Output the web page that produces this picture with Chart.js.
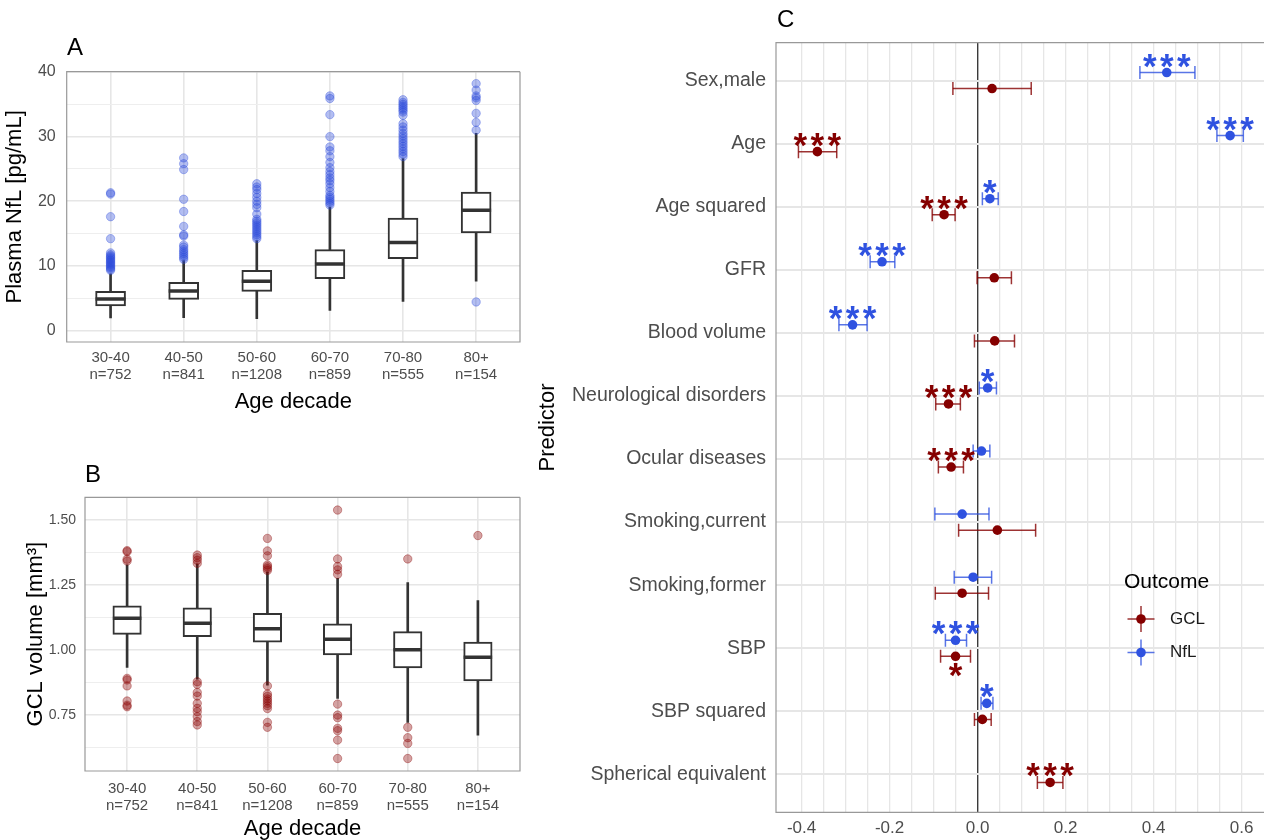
<!DOCTYPE html>
<html>
<head>
<meta charset="utf-8">
<script src="https://cdn.jsdelivr.net/npm/chart.js@4.4.1/dist/chart.umd.min.js"></script>
<style>
  body { margin: 0; background: #fff; width: 1264px; height: 840px; position: relative; overflow: hidden; }
  .panel { position: absolute; }
  .tag { position: absolute; font: 24px/24px "Liberation Sans", Arial, sans-serif; color: #000; }
</style>
</head>
<body>
<div class="panel" style="left:0;top:0"><canvas id="chartA" width="540" height="430"></canvas></div>
<div class="panel" style="left:0;top:430px"><canvas id="chartB" width="540" height="410"></canvas></div>
<div class="panel" style="left:530px;top:0"><canvas id="chartC" width="734" height="840"></canvas></div>
<div class="tag" style="left:67px;top:35px">A</div>
<div class="tag" style="left:85px;top:462px">B</div>
<div class="tag" style="left:777px;top:7px">C</div>
<script>
// ---- shared categories ----
const ageCats = ['30-40', '40-50', '50-60', '60-70', '70-80', '80+'];
const ageCounts = [752, 841, 1208, 859, 555, 154];

// ---- panel A: plasma NfL [pg/mL] ----
const nflLo  = [1.91, 1.96, 1.81, 3.1, 4.5, 7.6];
const nflQ1  = [3.77, 4.80, 6.04, 8.00, 11.1, 15.1];
const nflMed = [4.85, 6.09, 7.59, 10.27, 13.6, 18.6];
const nflQ3  = [6.04, 7.43, 9.29, 12.5, 17.4, 21.4];
const nflHi  = [8.77, 10.8, 13.9, 19.1, 26.6, 30.5];
const nflOut = [
  [9.3, 9.5, 9.7, 9.9, 10.1, 10.3, 10.5, 10.7, 10.9, 11.1, 11.3, 11.5, 11.7, 12.0, 14.2, 17.6, 21.1, 21.3],
  [11.0, 11.3, 11.6, 11.9, 12.2, 12.5, 12.9, 13.2, 14.6, 14.8, 16.1, 18.4, 20.3, 24.9, 25.8, 26.7],
  [14.2, 14.5, 14.8, 15.1, 15.4, 15.7, 16.0, 16.3, 16.6, 16.9, 17.2, 18.0, 19.0, 19.5, 20.0, 20.6, 21.2, 21.8, 22.2, 22.7],
  [19.4, 19.7, 20.0, 20.3, 20.6, 20.9, 21.5, 22.1, 22.7, 23.2, 23.6, 24.1, 24.6, 25.2, 26.0, 26.9, 27.8, 28.4, 30.0, 33.4, 35.9, 36.3],
  [26.9, 27.3, 27.7, 28.1, 28.5, 28.9, 29.3, 29.7, 30.1, 30.5, 31.0, 31.5, 32.0, 33.3, 33.8, 34.1, 34.4, 34.7, 35.0, 35.3, 35.7],
  [4.4, 31.0, 32.2, 33.6, 35.6, 36.0, 36.3, 37.2, 38.2]
];
const nflTicks = [0, 10, 20, 30, 40];

// ---- panel B: GCL volume [mm3] ----
const gclLo  = [0.933, 0.888, 0.865, 0.814, 0.722, 0.673];
const gclQ1  = [1.060, 1.051, 1.030, 0.981, 0.931, 0.881];
const gclMed = [1.122, 1.103, 1.082, 1.041, 1.001, 0.972];
const gclQ3  = [1.170, 1.162, 1.141, 1.101, 1.071, 1.031];
const gclHi  = [1.327, 1.331, 1.301, 1.276, 1.259, 1.190];
const gclOut = [
  [1.382, 1.378, 1.349, 1.342, 0.891, 0.885, 0.862, 0.804, 0.788, 0.782],
  [1.365, 1.355, 1.345, 1.333, 0.878, 0.868, 0.837, 0.823, 0.795, 0.776, 0.763, 0.744, 0.725, 0.712],
  [1.429, 1.381, 1.362, 1.327, 1.320, 1.313, 1.306, 0.862, 0.831, 0.822, 0.812, 0.804, 0.795, 0.786, 0.775, 0.722, 0.703],
  [1.538, 1.350, 1.321, 1.308, 1.291, 0.792, 0.750, 0.740, 0.699, 0.690, 0.654, 0.583],
  [1.350, 0.703, 0.663, 0.641, 0.583],
  [1.440]
];
const gclTicks = [0.75, 1.00, 1.25, 1.50];

// ---- panel C: standardised effects per predictor ----
const predictors = ['Sex,male', 'Age', 'Age squared', 'GFR', 'Blood volume', 'Neurological disorders',
  'Ocular diseases', 'Smoking,current', 'Smoking,former', 'SBP', 'SBP squared', 'Spherical equivalent'];
const effGcl   = [0.033, -0.364, -0.076, 0.038, 0.039, -0.066, -0.060, 0.045, -0.035, -0.050, 0.011, 0.165];
const effGclLo = [-0.056, -0.407, -0.103, -0.001, -0.007, -0.095, -0.089, -0.043, -0.096, -0.084, -0.007, 0.136];
const effGclHi = [0.122, -0.320, -0.051, 0.077, 0.084, -0.039, -0.032, 0.132, 0.025, -0.016, 0.031, 0.194];
const starsGcl = ['', '***', '***', '', '', '***', '***', '', '', '*', '', '***'];
const effNfl   = [0.430, 0.574, 0.028, -0.217, -0.284, 0.023, 0.009, -0.035, -0.010, -0.050, 0.021, null];
const effNflLo = [0.369, 0.544, 0.011, -0.244, -0.315, 0.004, -0.010, -0.097, -0.053, -0.073, 0.008, null];
const effNflHi = [0.494, 0.604, 0.047, -0.188, -0.251, 0.043, 0.028, 0.026, 0.032, -0.025, 0.035, null];
const starsNfl = ['***', '***', '*', '***', '***', '*', '', '', '', '***', '*', ''];
const effTicks = [-0.4, -0.2, 0, 0.2, 0.4, 0.6];

const FONT = '"Liberation Sans", Arial, sans-serif';
const INK = '#333333';
const TICK = '#4d4d4d';
const GRID = '#e6e6e6';
const GRID_MINOR = '#eeeeee';
const RED = '#850000';
const BLUE = '#2f52e0';

// grey frame round the panel, drawn on top like ggplot's panel.border
const panelBorder = {
  id: 'panelBorder',
  afterDraw(chart, args, opts) {
    const { ctx, chartArea: a } = chart;
    ctx.save();
    ctx.strokeStyle = '#999';
    ctx.lineWidth = 1.2;
    ctx.beginPath();
    ctx.moveTo(a.right, a.top);
    ctx.lineTo(a.left, a.top);
    ctx.lineTo(a.left, a.bottom);
    ctx.lineTo(a.right, a.bottom);
    if (!opts.openRight) ctx.lineTo(a.right, a.top);
    ctx.stroke();
    ctx.restore();
  }
};

// major ticks plus the midpoints between them
function withMinor(major, min, max) {
  const step = major[1] - major[0];
  const vals = [];
  for (let v = major[0] - step / 2; v <= max + 1e-9; v += step / 2) {
    if (v >= min - 1e-9) vals.push(+v.toFixed(4));
  }
  return vals;
}
const isMajor = (v, major) => major.some(m => Math.abs(m - v) < 1e-6);

function boxChart(id, o) {
  const spans = (a, b) => a.map((v, i) => ({ x: i, y: [v, b[i]] }));
  const outPts = [];
  o.out.forEach((list, i) => list.forEach(v => outPts.push({ x: i, y: v })));

  return new Chart(document.getElementById(id), {
    type: 'bar',
    data: {
      datasets: [
        { type: 'bar', data: spans(o.lo, o.hi), backgroundColor: INK, barThickness: 2, grouped: false, order: 4 },
        { type: 'bar', data: spans(o.q1, o.q3), backgroundColor: '#fff', borderColor: INK, borderWidth: 2,
          borderSkipped: false, barThickness: o.boxW, grouped: false, order: 3 },
        { type: 'scatter', data: o.med.map((v, i) => ({ x: i, y: v })), pointStyle: 'line',
          pointRadius: o.boxW / 2, pointBorderColor: INK, pointBorderWidth: 3.5, order: 2 },
        { type: 'scatter', data: outPts, pointRadius: 4.2, pointBackgroundColor: o.outFill,
          pointBorderColor: o.outFill, pointBorderWidth: 1, order: 1 }
      ]
    },
    options: {
      responsive: false,
      animation: false,
      events: [],
      layout: { autoPadding: false, padding: { left: 0, top: o.top, right: o.right, bottom: 0 } },
      plugins: { legend: { display: false }, tooltip: { enabled: false } },
      scales: {
        x: {
          type: 'linear', min: -0.6, max: 5.6, offset: false,
          afterBuildTicks: s => { s.ticks = ageCats.map((c, i) => ({ value: i })); },
          afterFit: s => { s.height = o.xH; },
          grid: { color: GRID, lineWidth: 1.6, drawTicks: false, offset: false },
          border: { display: false },
          ticks: {
            autoSkip: false, maxRotation: 0, padding: o.xPad, color: TICK,
            font: { family: FONT, size: 15, lineHeight: 1.15 },
            callback: (v, i) => [ageCats[i], 'n=' + ageCounts[i]]
          },
          title: { display: true, text: 'Age decade', color: '#000',
            font: { family: FONT, size: 22, lineHeight: 1 }, padding: { top: 0, bottom: o.xTitlePad } }
        },
        y: {
          min: o.yMin, max: o.yMax,
          afterBuildTicks: s => { s.ticks = withMinor(o.yTicks, o.yMin, o.yMax).map(v => ({ value: v })); },
          afterFit: s => { s.width = o.yW; },
          grid: {
            drawTicks: false,
            color: c => isMajor(c.tick.value, o.yTicks) ? GRID : GRID_MINOR,
            lineWidth: c => isMajor(c.tick.value, o.yTicks) ? 1.6 : 1
          },
          border: { display: false },
          ticks: {
            padding: o.yPad, color: TICK, font: { family: FONT, size: o.yFont },
            callback: v => isMajor(v, o.yTicks) ? v.toFixed(o.digits) : ''
          },
          title: { display: true, text: o.yTitle, color: '#000',
            font: { family: FONT, size: 22, lineHeight: 1 }, padding: { top: o.yTitlePad, bottom: 0 } }
        }
      }
    },
    plugins: [panelBorder]
  });
}

boxChart('chartA', {
  lo: nflLo, q1: nflQ1, med: nflMed, q3: nflQ3, hi: nflHi, out: nflOut,
  outFill: 'rgba(45,75,220,0.36)', boxW: 30,
  yMin: -1.8, yMax: 40.05, yTicks: nflTicks, digits: 0, yFont: 16,
  yTitle: 'Plasma NfL [pg/mL]',
  top: 71.7, right: 20, xH: 88, yW: 66.7, xPad: 7.4, yPad: 11, xTitlePad: 17, yTitlePad: 4
});

boxChart('chartB', {
  lo: gclLo, q1: gclQ1, med: gclMed, q3: gclQ3, hi: gclHi, out: gclOut,
  outFill: 'rgba(139,0,0,0.36)', boxW: 28.5,
  yMin: 0.535, yMax: 1.587, yTicks: gclTicks, digits: 2, yFont: 14,
  yTitle: 'GCL volume [mm³]',
  top: 67.3, right: 20, xH: 69, yW: 85, xPad: 9, yPad: 9, xTitlePad: 0, yTitlePad: 25
});

// ---- panel C ----
const dodge = 0.127;
const rowOf = (i, side) => i + 1 + side * dodge;

function ciLines(est, lo, hi, side) {
  const d = [];
  est.forEach((e, i) => {
    if (e === null) return;
    d.push({ x: lo[i], y: rowOf(i, side) }, { x: hi[i], y: rowOf(i, side) }, { x: null, y: null });
  });
  return d;
}
function ciCaps(est, lo, hi, side) {
  const d = [];
  est.forEach((e, i) => {
    if (e === null) return;
    d.push({ x: lo[i], y: rowOf(i, side) }, { x: hi[i], y: rowOf(i, side) });
  });
  return d;
}
function estPoints(est, side) {
  return est.map((e, i) => e === null ? null : { x: e, y: rowOf(i, side) }).filter(p => p);
}

const series = [
  { name: 'GCL', est: effGcl, lo: effGclLo, hi: effGclHi, stars: starsGcl, side: 1,
    point: RED, bar: 'rgba(133,0,0,0.8)' },
  { name: 'NfL', est: effNfl, lo: effNflLo, hi: effNflHi, stars: starsNfl, side: -1,
    point: BLUE, bar: 'rgba(47,82,224,0.8)' }
];

const cDatasets = [];
series.forEach(s => {
  cDatasets.push({ data: ciLines(s.est, s.lo, s.hi, s.side), showLine: true, spanGaps: false,
    borderColor: s.bar, borderWidth: 1.5, pointRadius: 0 });
  cDatasets.push({ data: ciCaps(s.est, s.lo, s.hi, s.side), pointStyle: 'line', pointRotation: 90,
    pointRadius: 6.5, pointBorderColor: s.bar, pointBorderWidth: 1.5 });
  cDatasets.push({ data: estPoints(s.est, s.side), pointRadius: 4.8, pointBackgroundColor: s.point,
    pointBorderColor: s.point, pointBorderWidth: 0 });
});

// significance stars over (or under) each estimate
const starLabels = {
  id: 'starLabels',
  afterDatasetsDraw(chart, args, opts) {
    const { ctx, scales: { x, y } } = chart;
    ctx.save();
    ctx.font = 'bold 35px ' + FONT;
    ctx.textAlign = 'center';
    series.forEach(s => {
      ctx.fillStyle = s.point;
      s.stars.forEach((txt, i) => {
        if (!txt) return;
        const px = x.getPixelForValue(s.est[i]);
        const py = y.getPixelForValue(rowOf(i, s.side));
        const below = s.name === 'GCL' && opts.below.includes(predictors[i]);
        const target = below ? py + 14 : py - 12;
        const m = ctx.measureText('*');
        const base = target + (m.actualBoundingBoxAscent - m.actualBoundingBoxDescent) / 2;
        for (let k = 0; k < txt.length; k++) {
          ctx.fillText('*', px + (k - (txt.length - 1) / 2) * 17, base);
        }
      });
    });
    ctx.restore();
  }
};

const outcomeLegend = {
  id: 'outcomeLegend',
  afterDraw(chart) {
    const ctx = chart.ctx;
    ctx.save();
    ctx.textBaseline = 'middle';
    ctx.textAlign = 'left';
    ctx.fillStyle = '#000';
    ctx.font = '21px ' + FONT;
    ctx.fillText('Outcome', 594, 582);
    series.forEach((s, k) => {
      const gx = 611, gy = 619 + k * 33.5;
      ctx.strokeStyle = s.bar;
      ctx.lineWidth = 1.5;
      ctx.beginPath();
      ctx.moveTo(gx - 13.5, gy); ctx.lineTo(gx + 13.5, gy);
      ctx.moveTo(gx, gy - 13); ctx.lineTo(gx, gy + 13);
      ctx.stroke();
      ctx.fillStyle = s.point;
      ctx.beginPath();
      ctx.arc(gx, gy, 4.8, 0, Math.PI * 2);
      ctx.fill();
      ctx.fillStyle = '#1a1a1a';
      ctx.font = '17px ' + FONT;
      ctx.fillText(s.name, 640, gy);
    });
    ctx.restore();
  }
};

new Chart(document.getElementById('chartC'), {
  type: 'scatter',
  data: { datasets: cDatasets },
  options: {
    responsive: false,
    animation: false,
    events: [],
    layout: { autoPadding: false, padding: { left: 0, top: 42.7, right: 0, bottom: 0 } },
    plugins: { legend: { display: false }, tooltip: { enabled: false },
      starLabels: { below: ['SBP'] }, panelBorder: { openRight: true } },
    scales: {
      x: {
        type: 'linear', min: -0.458, max: 0.651,
        afterBuildTicks: s => {
          // grid every 0.05 between -0.4 and 0.6
          const t = [];
          for (let k = -8; k <= 12; k++) t.push({ value: +(k * 0.05).toFixed(2) });
          s.ticks = t;
        },
        afterFit: s => { s.height = 27.7; },
        grid: {
          drawTicks: false,
          color: c => Math.abs(c.tick.value) < 1e-6 ? '#3a3a3a' : GRID,
          lineWidth: c => Math.abs(c.tick.value) < 1e-6 ? 1.4 : 1.3
        },
        border: { display: false },
        ticks: {
          autoSkip: false, maxRotation: 0, padding: 5.5, color: TICK,
          font: { family: FONT, size: 17 },
          callback: v => isMajor(v, effTicks) ? v.toFixed(1) : ''
        }
      },
      y: {
        type: 'linear', min: 0.4, max: 12.6, reverse: true,
        afterBuildTicks: s => { s.ticks = predictors.map((p, i) => ({ value: i + 1 })); },
        afterFit: s => { s.width = 246; },
        grid: { drawTicks: false, color: GRID, lineWidth: 2 },
        border: { display: false },
        ticks: {
          autoSkip: false, padding: 10, color: TICK, font: { family: FONT, size: 19.5 },
          callback: (v, i) => predictors[i]
        },
        title: { display: true, text: 'Predictor', color: '#000',
          font: { family: FONT, size: 22, lineHeight: 1 }, padding: { top: 7, bottom: 0 } }
      }
    }
  },
  plugins: [panelBorder, starLabels, outcomeLegend]
});
</script>
</body>
</html>
